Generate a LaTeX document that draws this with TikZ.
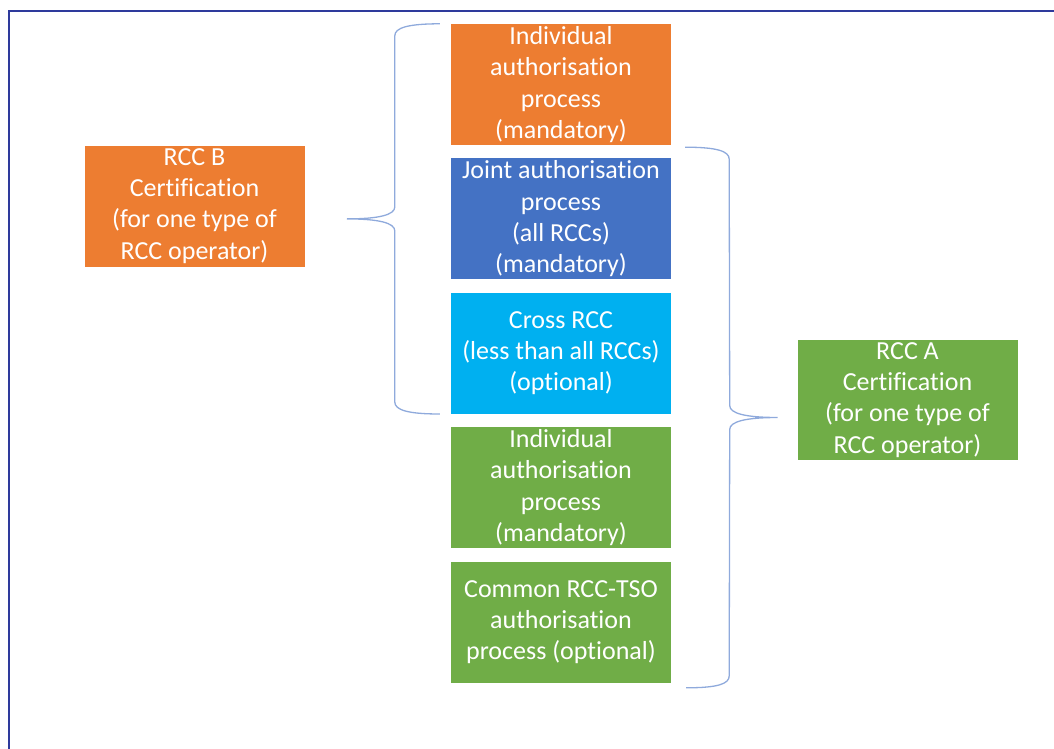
\documentclass[tikz,border=0pt]{standalone}
\usepackage{fontspec}
\setmainfont{Carlito}[Ligatures=NoCommon]
\usetikzlibrary{positioning}
\usetikzlibrary{calc}
\definecolor{rccorange}{HTML}{ED7D31}
\definecolor{rccblue}{HTML}{4472C4}
\definecolor{rcccyan}{HTML}{00B0F0}
\definecolor{rccgreen}{HTML}{70AD47}
\definecolor{bracecol}{HTML}{8FAADC}
\definecolor{framecol}{HTML}{2E3A9C}
\tikzset{procbox/.style={fill=#1,text=white,minimum width=220pt,minimum height=121pt,
           inner sep=1pt,align=center,font=\fontsize{26}{31.3}\selectfont},
         brace/.style={draw=bracecol,line width=1.3pt},
         frame/.style={draw=framecol,line width=2.5pt},
         }

\begin{document}
\begin{tikzpicture}[x=1pt,y=-1pt]
\useasboundingbox (0,0) rectangle (1054,749);
\draw[frame] (9,749) -- (9,11) -- (1054,11);
% middle column
\node[procbox=rccorange] (indB) at (561,84.5) {Individual\\authorisation\\process\\(mandatory)};
\node[procbox=rccblue,below=13pt of indB] (joint) {Joint authorisation\\process\\(all RCCs)\\(mandatory)};
\node[procbox=rcccyan,below=13pt of joint] (cross) {Cross RCC\\(less than all RCCs)\\(optional)};
\node[procbox=rccgreen,below=13pt of cross] (indA) {Individual\\authorisation\\process\\(mandatory)};
\node[procbox=rccgreen,below=13pt of indA] (common) {Common RCC-TSO\\authorisation\\process (optional)};
% certifications
\node[procbox=rccorange] (rccB) at (194.5,206) {RCC B\\Certification\\(for one type of\\RCC operator)};
\node[procbox=rccgreen,minimum height=120pt] (rccA) at (907.5,400) {RCC A\\Certification\\(for one type of\\RCC operator)};
% braces
\coordinate (lbtop) at ($(indB.north west)+(-11,0)$);
\coordinate (lbbot) at ($(cross.south west)+(-11,0)$);
\coordinate (lbtip) at ($(lbtop)!.5!(lbbot)+(-93,0)$);
\coordinate (rbtop) at ($(joint.north east)+(14,-11)$);
\coordinate (rbbot) at ($(common.south east)+(15,5)$);
\coordinate (rbtip) at ($(rbtop)!.5!(rbbot)+(92,0)$);
\draw[brace] (lbtop) .. controls +(-32,0) and +(0,-8) .. ++(-45,12)
  -- ($(lbtip)+(48,-12)$) .. controls +(0,8) and +(32,0) .. (lbtip)
  .. controls +(32,0) and +(0,-8) .. ++(48,12)
  -- ($(lbbot)+(-45,-12)$) .. controls +(0,8) and +(-32,0) .. (lbbot);
\draw[brace] (rbtop) .. controls +(32,0) and +(0,-8) .. ++(44,12)
  -- ($(rbtip)+(-48,-12)$) .. controls +(0,8) and +(-32,0) .. (rbtip)
  .. controls +(-32,0) and +(0,-8) .. ++(-48,12)
  -- ($(rbbot)+(43,-12)$) .. controls +(0,8) and +(32,0) .. (rbbot);
\end{tikzpicture}
\end{document}
